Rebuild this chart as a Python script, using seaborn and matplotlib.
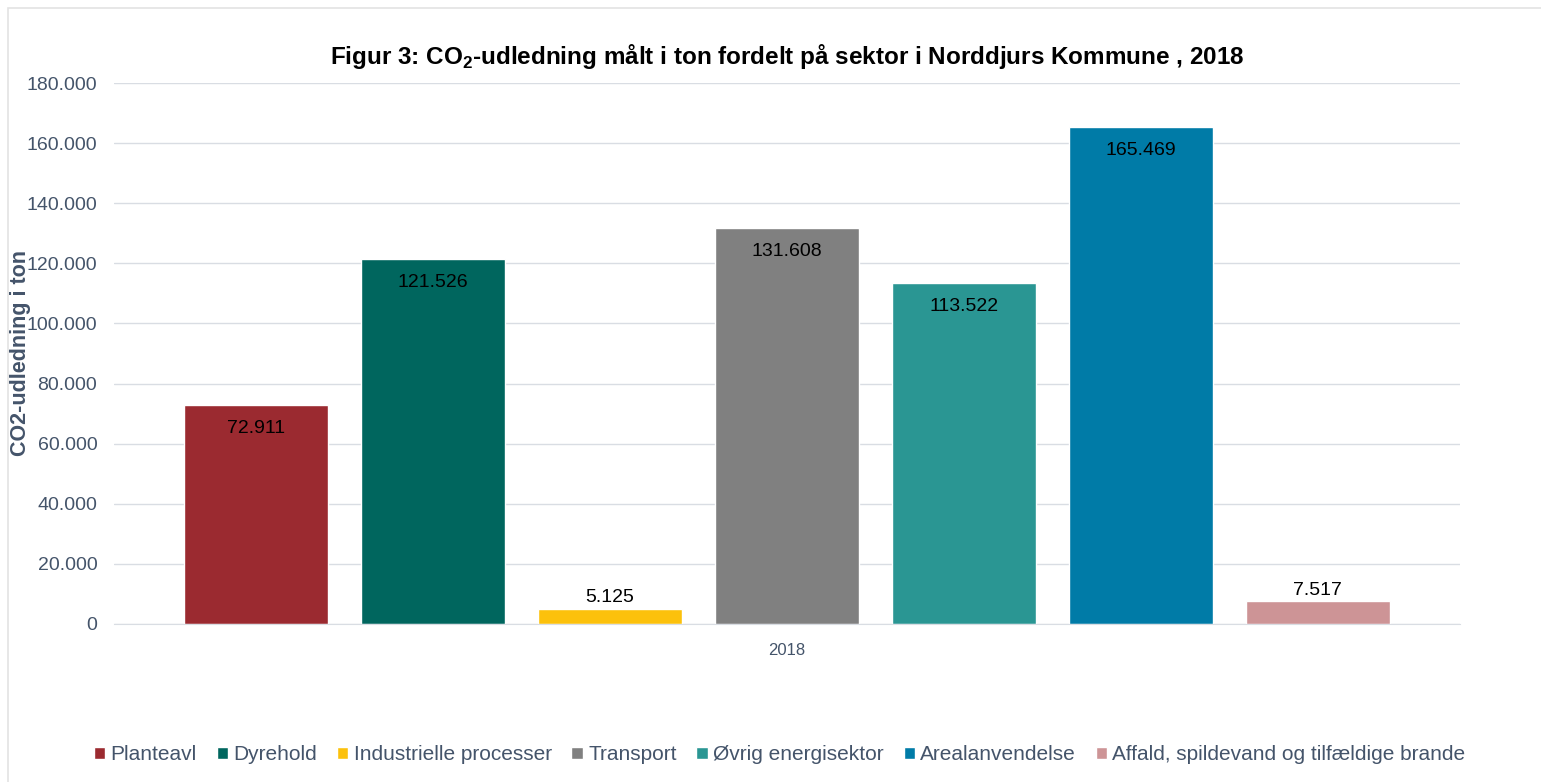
import numpy as np
import pandas as pd
import matplotlib
matplotlib.use('Agg')
import matplotlib.pyplot as plt
import seaborn as sns
from matplotlib.patches import Rectangle
from matplotlib.ticker import FuncFormatter

# data
sectors = ['Planteavl', 'Dyrehold', 'Industrielle processer', 'Transport',
           'Øvrig energisektor', 'Arealanvendelse', 'Affald, spildevand og tilfældige brande']
values = [72911, 121526, 5125, 131608, 113522, 165469, 7517]
year = ['2018'] * len(sectors)
colors = ['#9B2A30', '#00665E', '#FCC10C', '#808080', '#2A9693', '#007BA7', '#CD9496']

df = pd.DataFrame({'year': year, 'sector': sectors, 'value': values})

sns.set_style('white')
plt.rcParams['font.family'] = ['Liberation Sans', 'DejaVu Sans']
plt.rcParams['mathtext.fontset'] = 'custom'
plt.rcParams['mathtext.rm'] = 'Liberation Sans'
plt.rcParams['mathtext.bf'] = 'Liberation Sans:bold'

fig = plt.figure(figsize=(15.41, 7.82), dpi=100)
ax = fig.add_axes([114/1541, 1-624/782, (1460-114)/1541, (624-83)/782])

sns.barplot(data=df, x='year', y='value', hue='sector', palette=colors,
            width=0.8, gap=0.19, saturation=1, ax=ax, legend=True)

ax.set_xlim(-0.4346, 0.4346)
ax.set_ylim(0, 180000)
ax.set_yticks(np.arange(0, 180001, 20000))
ax.yaxis.set_major_formatter(FuncFormatter(lambda v, p: f'{int(v):,}'.replace(',', '.')))
ax.grid(axis='y', color='#D9DDE3', linewidth=1)
ax.set_axisbelow(True)
for s in ['left', 'right', 'top']:
    ax.spines[s].set_visible(False)
ax.spines['bottom'].set_color('#D9DDE3')
ax.tick_params(axis='y', labelsize=14, labelcolor='#44546A', length=0, pad=12)
ax.tick_params(axis='x', labelsize=12, labelcolor='#44546A', length=0, pad=14)
ax.set_xlabel('')
ax.set_ylabel('CO2-udledning i ton', fontsize=15.5, fontweight='bold', color='#44546A')
ax.yaxis.set_label_coords(-(114-31)/1346, 0.5)

# data labels
for cont, v in zip(ax.containers, values):
    lab = [f'{v:,}'.replace(',', '.')]
    if v > 20000:
        ax.bar_label(cont, labels=lab, padding=-23, fontsize=14, color='#000000')
    else:
        ax.bar_label(cont, labels=lab, padding=2, fontsize=14, color='#000000')

ax.set_title(r'Figur 3: CO$_\mathbf{2}$-udledning målt i ton fordelt på sektor i Norddjurs Kommune , 2018',
             fontsize=17.5, fontweight='bold', color='#000000', pad=14)

handles, labels = ax.get_legend_handles_labels()
ax.legend_.remove()
fig.legend(handles, labels, loc='center', bbox_to_anchor=(0.506, 1-755/782), ncol=7,
           frameon=False, fontsize=15, labelcolor='#44546A', handlelength=0.55, handleheight=0.55,
           handletextpad=0.25, columnspacing=0.95)

fig.patches.append(Rectangle((8/1541, -0.01), 1.1, 1-8/782+0.01, transform=fig.transFigure,
                             fill=False, edgecolor='#E3E3E3', linewidth=1.2))

fig.savefig('out.png', dpi=100)
